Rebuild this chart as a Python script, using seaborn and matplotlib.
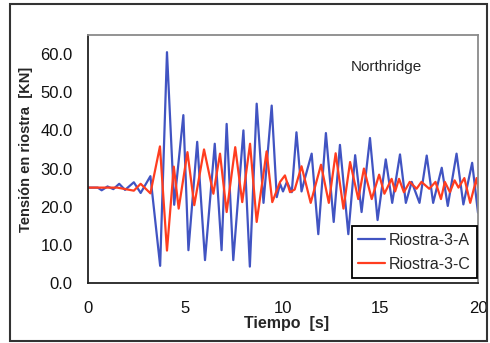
import numpy as np
import pandas as pd
import matplotlib
matplotlib.use("Agg")
import matplotlib.pyplot as plt
import seaborn as sns
from matplotlib.patches import Rectangle

# --- data (local peaks / troughs) ---
t_a = [0, 0.5, 0.7, 1.0, 1.3, 1.6, 1.9, 2.35, 2.7, 3.2, 3.7, 4.05, 4.42, 4.89,
       5.15, 5.6, 6.0, 6.5, 6.85, 7.11, 7.45, 7.97, 8.3, 8.65, 9.0, 9.42, 9.68,
       9.85, 10.0, 10.2, 10.45, 10.69, 10.95, 11.1, 11.47, 11.81, 12.2, 12.6,
       12.92, 13.35, 13.7, 14.03, 14.46, 14.85, 15.27, 15.6, 16.0, 16.3, 16.6,
       17.0, 17.37, 17.7, 18.14, 18.45, 18.9, 19.25, 19.7, 20.0]
v_a = [25, 25, 24.3, 25.3, 24.6, 26.0, 24.4, 26.4, 23.6, 28.0, 4.5, 60.5, 20.5, 44.0,
       8.6, 37.0, 6.0, 36.5, 8.6, 41.7, 6.0, 40.0, 4.3, 47.0, 21.0, 46.5, 22.5,
       26.0, 24.0, 26.5, 23.8, 39.5, 24.0, 27.0, 33.9, 12.8, 39.3, 16.0,
       36.2, 12.8, 33.5, 18.6, 38.0, 16.5, 32.4, 21.0, 33.7, 21.0, 26.5,
       21.0, 33.4, 21.0, 30.2, 20.2, 33.9, 20.6, 31.5, 18.4]

t_c = [0, 1.5, 2.35, 2.7, 3.2, 3.69, 4.05, 4.4, 4.65, 5.1, 5.45, 5.95, 6.43, 6.77,
       7.11, 7.55, 7.91, 8.31, 8.65, 9.16, 9.45, 9.85, 10.1, 10.36, 10.6, 10.95,
       11.42, 11.95, 12.35, 12.7, 13.1, 13.44, 13.86, 14.15, 14.55, 14.93, 15.2,
       15.57, 15.75, 15.95, 16.2, 16.5, 16.85, 17.1, 17.5, 17.82, 18.1, 18.3,
       18.56, 18.8, 19.0, 19.3, 19.6, 19.93, 20.0]
v_c = [25, 25, 24.2, 26.0, 23.5, 35.8, 8.5, 30.5, 19.5, 34.3, 20.4, 35.0, 23.4, 33.9,
       18.6, 35.6, 21.2, 36.5, 16.0, 34.5, 21.2, 26.5, 28.2, 23.8, 24.5, 30.6,
       21.0, 31.0, 21.0, 34.0, 19.5, 31.7, 22.0, 30.0, 22.0, 28.4, 23.4,
       27.3, 24.0, 27.3, 23.8, 26.5, 24.7, 26.5, 24.7, 26.5, 22.0, 26.5,
       23.8, 26.9, 25.0, 27.5, 21.0, 27.5, 25.0]

labels = ["Riostra-3-A", "Riostra-3-C"]
x_ticks = [0, 5, 10, 15, 20]
y_ticks = [0, 10, 20, 30, 40, 50, 60]

df = pd.concat([
    pd.DataFrame({"t": t_a, "v": v_a, "serie": labels[0]}),
    pd.DataFrame({"t": t_c, "v": v_c, "serie": labels[1]}),
], ignore_index=True)

sns.set_theme(style="white")
plt.rcParams["font.family"] = ["Liberation Sans", "DejaVu Sans"]

fig = plt.figure(figsize=(4.9, 3.43), dpi=100)
ax = fig.add_axes([88/490, 1-283/343, 390/490, 248/343])

sns.lineplot(data=df, x="t", y="v", hue="serie", sort=False, estimator=None,
             palette={labels[0]: "#4154c2", labels[1]: "#ff3d1f"},
             linewidth=1.6, ax=ax)

ax.set_xlim(0, 20)
ax.set_ylim(0, 65)
ax.set_xticks(x_ticks)
ax.set_xticklabels([str(v) for v in x_ticks])
ax.set_yticks(y_ticks)
ax.set_yticklabels([f"{v:.1f}" for v in y_ticks])
ax.tick_params(axis="both", length=0, labelsize=12, colors="#111111")
ax.tick_params(axis="y", pad=11)
ax.tick_params(axis="x", pad=13)

for s in ["left", "bottom"]:
    ax.spines[s].set_color("#222222")
    ax.spines[s].set_linewidth(1.3)
for s in ["top", "right"]:
    ax.spines[s].set_color("#8a8a8a")
    ax.spines[s].set_linewidth(1.3)

ax.set_xlabel("Tiempo  [s]", fontsize=11.5, fontweight="bold")
ax.xaxis.set_label_coords((287-88)/390, -(316-283)/248)
ax.set_ylabel("Tensión en riostra  [KN]", fontsize=10.5, fontweight="bold")
ax.yaxis.set_label_coords(-(88-33)/390, (283-149)/248)

ax.text(0.764, 0.871, "Northridge", transform=ax.transAxes, ha="center",
        va="center", fontsize=11)

leg = ax.legend(loc="lower right", bbox_to_anchor=(0.997, 0.02), borderaxespad=0,
                fancybox=False, framealpha=1, edgecolor="black", fontsize=11.5,
                handlelength=1.7, handletextpad=0.2, borderpad=0.4,
                labelspacing=0.55, title=None)
leg.get_frame().set_linewidth(1.3)

fig.patches.append(Rectangle((10/490, 2/343), 477/490, 337/343,
                             transform=fig.transFigure, fill=False,
                             edgecolor="#333333", linewidth=1.5))

fig.savefig("out.png", dpi=100)
